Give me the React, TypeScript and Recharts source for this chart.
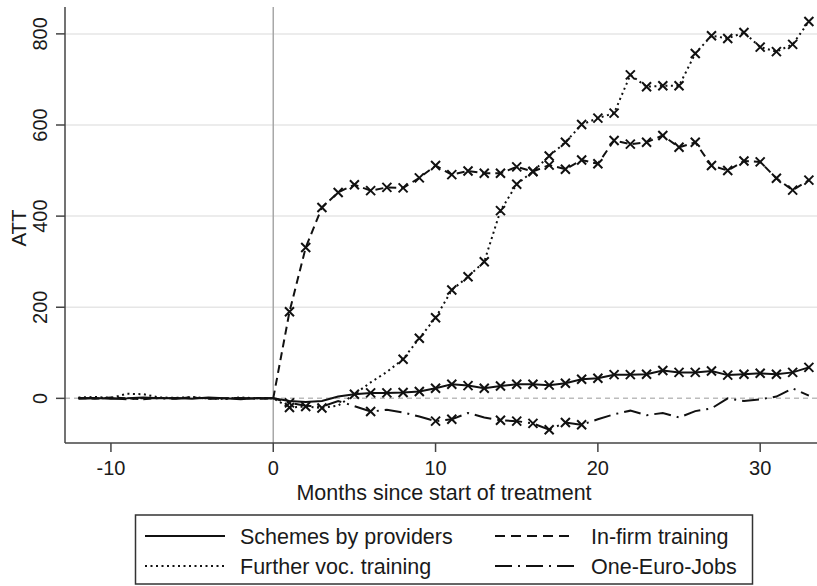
import React from 'react';
import { LineChart, Line, XAxis, YAxis, ReferenceLine } from 'recharts';

// months relative to start of treatment
const months = [
  -12, -11, -10, -9, -8, -7, -6, -5, -4, -3, -2, -1, 0,
  1, 2, 3, 4, 5, 6, 7, 8, 9, 10, 11, 12, 13, 14, 15, 16, 17, 18, 19, 20,
  21, 22, 23, 24, 25, 26, 27, 28, 29, 30, 31, 32, 33,
];

const providers = [
  0, 1, -1, 0, 2, 0, 1, -1, 2, 0, -2, 1, 0,
  -6, -8, -6, 4, 9, 12, 12, 13, 15, 22, 31, 28, 22, 27, 31, 31, 29, 33, 42, 44,
  52, 52, 53, 61, 57, 57, 60, 51, 53, 55, 53, 57, 68,
];
const inFirm = [
  1, -1, 2, 0, -2, 1, 0, 2, -1, 0, 1, -1, 0,
  190, 331, 419, 452, 469, 456, 463, 462, 484, 511, 491, 499, 494, 494, 508, 498, 512, 503, 523, 515,
  566, 558, 562, 577, 551, 562, 511, 500, 521, 519, 483, 457, 479,
];
const furtherVoc = [
  2, 3, 1, 10, 9, 2, 1, 3, 0, -1, 2, 0, 0,
  -20, -18, -21, -16, 9, 35, 58, 86, 132, 177, 238, 267, 300, 412, 470, 498, 532, 562, 601, 615,
  626, 710, 684, 686, 686, 757, 796, 790, 803, 771, 761, 777, 827,
];
const oneEuro = [
  -1, 1, 0, -2, 1, 0, -1, 2, 0, -1, 1, 0, 0,
  -10, -16, -18, -6, -17, -29, -25, -31, -40, -50, -46, -32, -42, -48, -50, -55, -69, -53, -58, -46,
  -35, -27, -37, -32, -42, -28, -22, 0, -6, -2, 4, 22, 6,
];

// months that carry an x marker
const providersMarked = [
  5, 6, 7, 8, 9, 10, 11, 12, 13, 14, 15, 16, 17, 18, 19, 20, 21, 22, 23, 24,
  25, 26, 27, 28, 29, 30, 31, 32, 33,
];
const inFirmMarked = [
  1, 2, 3, 4, 5, 6, 7, 8, 9, 10, 11, 12, 13, 14, 15, 16, 17, 18, 19, 20, 21,
  22, 23, 24, 25, 26, 27, 28, 29, 30, 31, 32, 33,
];
const furtherMarked = [
  1, 2, 3, 8, 9, 10, 11, 12, 13, 14, 15, 16, 17, 18, 19, 20, 21, 22, 23, 24,
  25, 26, 27, 28, 29, 30, 31, 32, 33,
];
const oneEuroMarked = [1, 6, 10, 11, 14, 15, 16, 17, 18, 19];

const xTicks = [-10, 0, 10, 20, 30];
const yTicks = [0, 200, 400, 600, 800];
const gridValues = [200, 400, 600, 800];

const data = months.map((m, i) => ({
  month: m,
  providers: providers[i],
  inFirm: inFirm[i],
  furtherVoc: furtherVoc[i],
  oneEuro: oneEuro[i],
}));

const FONT = '"Liberation Sans", Arial, sans-serif';
const INK = '#111';
const DASH = '8 5';
const DOT = '2 3.5';
const DASHDOT = '17 6 2 6';

const xDot = (marked: number[]) => (props: any) => {
  const { cx, cy, payload, index } = props;
  if (!marked.includes(payload.month) || cx == null || cy == null) {
    return <g key={`n${index}`} />;
  }
  const r = 4.5;
  return (
    <path
      key={`x${index}`}
      d={`M${cx - r},${cy - r}L${cx + r},${cy + r}M${cx - r},${cy + r}L${cx + r},${cy - r}`}
      stroke={INK}
      strokeWidth={2}
      fill="none"
    />
  );
};

const YTick = (props: any) => {
  const { x, y, payload } = props;
  const bx = x + 1;
  return (
    <text
      x={bx}
      y={y}
      transform={`rotate(-90, ${bx}, ${y})`}
      textAnchor="middle"
      fontSize={20}
      fontFamily={FONT}
      fill="#1a1a1a"
    >
      {payload.value}
    </text>
  );
};

const legendItems = [
  { label: 'Schemes by providers', dash: undefined, col: 0, row: 0 },
  { label: 'In-firm training', dash: '10 6', col: 1, row: 0 },
  { label: 'Further voc. training', dash: DOT, col: 0, row: 1 },
  { label: 'One-Euro-Jobs', dash: DASHDOT, col: 1, row: 1 },
];

export default function App() {
  return (
    <div
      style={{
        position: 'absolute',
        left: 0,
        top: 0,
        width: 817,
        height: 586,
        background: '#fff',
        fontFamily: FONT,
      }}
    >
      <LineChart
        width={817}
        height={586}
        data={data}
        margin={{ top: 7, right: 0, bottom: 0, left: 0 }}
      >
        {gridValues.map((v) => (
          <ReferenceLine key={v} y={v} stroke="#e6e6e6" strokeWidth={1.5} />
        ))}
        <ReferenceLine y={0} stroke="#bcbcbc" strokeWidth={1.5} strokeDasharray="5 4" />
        <ReferenceLine x={0} stroke="#a8a8a8" strokeWidth={1.5} />
        <XAxis
          dataKey="month"
          type="number"
          domain={[-12.83, 33.5]}
          ticks={xTicks}
          allowDataOverflow
          height={143}
          tickSize={9}
          tickMargin={9}
          axisLine={{ stroke: '#444', strokeWidth: 1.5 }}
          tickLine={{ stroke: '#444', strokeWidth: 1.5 }}
          tick={{ fontSize: 20, fill: '#1a1a1a', fontFamily: FONT }}
          label={(p: any) => {
            const vb = p.viewBox;
            return (
              <text
                x={vb.x + vb.width / 2 + 3}
                y={vb.y + 57}
                textAnchor="middle"
                fontSize={21.5}
                fontFamily={FONT}
                fill="#1a1a1a"
              >
                Months since start of treatment
              </text>
            );
          }}
        />
        <YAxis
          type="number"
          domain={[-98, 859]}
          ticks={yTicks}
          allowDataOverflow
          width={65}
          tickSize={9}
          tickMargin={10}
          axisLine={{ stroke: '#444', strokeWidth: 1.5 }}
          tickLine={{ stroke: '#444', strokeWidth: 1.5 }}
          tick={YTick}
          label={(p: any) => {
            const vb = p.viewBox;
            const lx = vb.x + 25.5;
            const ly = vb.y + vb.height / 2 + 3;
            return (
              <text
                x={lx}
                y={ly}
                transform={`rotate(-90, ${lx}, ${ly})`}
                textAnchor="middle"
                fontSize={20.5}
                fontFamily={FONT}
                fill="#1a1a1a"
              >
                ATT
              </text>
            );
          }}
        />
        <Line
          dataKey="providers"
          type="linear"
          stroke={INK}
          strokeWidth={2}
          dot={xDot(providersMarked)}
          activeDot={false}
          isAnimationActive={false}
        />
        <Line
          dataKey="furtherVoc"
          type="linear"
          stroke={INK}
          strokeWidth={2}
          strokeDasharray={DOT}
          dot={xDot(furtherMarked)}
          activeDot={false}
          isAnimationActive={false}
        />
        <Line
          dataKey="inFirm"
          type="linear"
          stroke={INK}
          strokeWidth={2}
          strokeDasharray={DASH}
          dot={xDot(inFirmMarked)}
          activeDot={false}
          isAnimationActive={false}
        />
        <Line
          dataKey="oneEuro"
          type="linear"
          stroke={INK}
          strokeWidth={2}
          strokeDasharray={DASHDOT}
          dot={xDot(oneEuroMarked)}
          activeDot={false}
          isAnimationActive={false}
        />
      </LineChart>
      <svg
        width={817}
        height={586}
        style={{ position: 'absolute', left: 0, top: 0, pointerEvents: 'none' }}
      >
        <rect x={135.5} y={515} width={617} height={69} fill="#fff" stroke="#333" strokeWidth={1.5} />
        {legendItems.map((it) => {
          const x0 = it.col === 0 ? 145 : 495;
          const ly = it.row === 0 ? 536 : 566;
          return (
            <g key={it.label}>
              <line
                x1={x0}
                x2={x0 + 80}
                y1={ly}
                y2={ly}
                stroke={INK}
                strokeWidth={2}
                strokeDasharray={it.dash}
              />
              <text
                x={x0 + (it.col === 0 ? 95 : 96)}
                y={ly + 7.5}
                fontSize={21.5}
                fontFamily={FONT}
                fill="#1a1a1a"
              >
                {it.label}
              </text>
            </g>
          );
        })}
      </svg>
    </div>
  );
}
